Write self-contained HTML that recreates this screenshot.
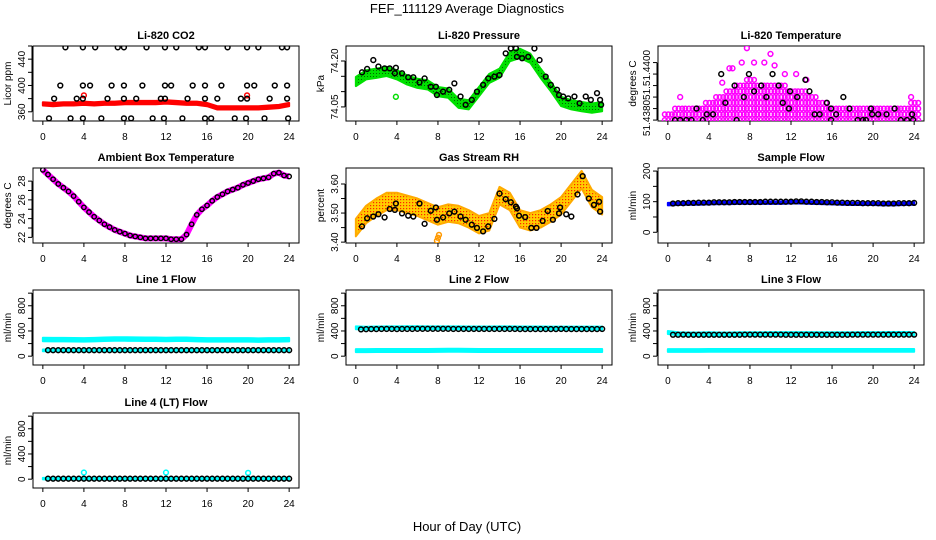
<!DOCTYPE html>
<html><head><meta charset="utf-8">
<style>
html,body{margin:0;padding:0;background:#fff;}
svg{display:block;font-family:"Liberation Sans",Helvetica,Arial,sans-serif;}
.tk{font-size:10px;fill:#000;}
.pt{font-size:11px;font-weight:bold;fill:#000;}
</style></head>
<body>
<svg id="chart" width="936" height="540" viewBox="0 0 936 540" xmlns="http://www.w3.org/2000/svg">
<defs>
<pattern id="greenDots" width="3" height="3" patternUnits="userSpaceOnUse"><rect width="3" height="3" fill="#00e000"/><rect x="1" y="1" width="1" height="1" fill="#006600"/></pattern>
<pattern id="orangeDots" width="3" height="3" patternUnits="userSpaceOnUse"><rect width="3" height="3" fill="#ffcc00"/><rect x="1" y="1" width="1.2" height="1.2" fill="#ff2200"/></pattern>
</defs>
<text x="467" y="13" text-anchor="middle" font-size="13">FEF_111129  Average Diagnostics</text>
<text x="467" y="531" text-anchor="middle" font-size="13">Hour of Day (UTC)</text>
</svg>
<script>
// ---------- data ----------
const HOURS = [0,1,2,3,4,5,6,7,8,9,10,11,12,13,14,15,16,17,18,19,20,21,22,23,24];
const HALF_T = [0.5,1,1.5,2,2.5,3,3.5,4,4.5,5,5.5,6,6.5,7,7.5,8,8.5,9,9.5,10,10.5,11,11.5,12,12.5,13,13.5,14,14.5,15,15.5,16,16.5,17,17.5,18,18.5,19,19.5,20,20.5,21,21.5,22,22.5,23,23.5,24];
const X_TICKS = [0,4,8,12,16,20,24];

// CO2
const co2Band = [372,371,372,372,373,372,373,373,374,374,374,374,375,374,373,373,371,366,366,366,366,366,367,368,371];
const co2BlackT = [2.2,3.9,5.1,7.3,7.9,10.1,11.9,13.0,15.2,15.8,18.0,19.9,21.0,23.3,23.8, 1.7,3.9,4.6,6.7,7.9,9.7,11.9,12.5,14.6,15.8,17.4,19.9,20.6,22.6,23.8, 1.1,3.3,3.9,6.3,7.9,9.1,11.5,11.9,14.1,15.8,17.0,19.3,19.9,22.1,23.8, 0.6,2.7,3.9,5.7,7.9,8.6,10.7,11.8,13.6,15.8,16.4,18.7,19.8,21.6,23.9];
const co2BlackV = [458,458,458,458,458,458,458,458,458,458,458,458,458,458,458, 400,400,400,400,400,400,400,400,400,400,400,400,400,400,400, 380,380,380,380,380,380,380,380,380,380,380,380,380,380,380, 350,350,350,350,350,350,350,350,350,350,350,350,350,350,350];

// Pressure
const presBand = [74.133,74.155,74.160,74.166,74.155,74.138,74.127,74.122,74.100,74.095,74.062,74.057,74.100,74.143,74.160,74.214,74.225,74.209,74.160,74.116,74.068,74.057,74.051,74.046,74.051];
const presBlackT = [0.6,1.1,1.7,2.2,2.8,3.3,3.8,3.9,4.5,5.1,5.6,6.2,6.7,7.3,7.8,7.9,8.5,9.1,9.6,10.2,10.7,11.3,11.8,12.4,12.9,13.5,14.0,14.6,15.1,15.6,15.7,16.2,16.8,17.4,17.9,18.5,19.0,19.6,19.8,20.2,20.7,21.3,21.8,22.4,22.9,23.5,23.8,23.9];
const presBlackV = [74.163,74.174,74.203,74.182,74.176,74.176,74.160,74.178,74.160,74.147,74.147,74.130,74.143,74.116,74.116,74.089,74.100,74.106,74.127,74.084,74.057,74.073,74.100,74.122,74.143,74.149,74.154,74.225,74.241,74.241,74.214,74.209,74.214,74.241,74.203,74.149,74.122,74.106,74.089,74.084,74.078,74.084,74.062,74.084,74.073,74.095,74.073,74.057];

// Li-820 temperature (levels of 0.00025 above 51.4380)
const tempMaxLevel = [1,2,2,2,3,4,5,6,7,6,6,6,5,5,4,3,2,2,2,2,2,2,2,2,3];
const tempOutT = [7.7,10.0,1.2,5.3,6.3,7.2,8.4,9.4,10.4,11.4,23.7,6.0,12.5,13.5];
const tempOutL = [12.5,11.5,4,6.5,9,10,10,10,9.5,8,4,9,8,7];
const tempBlackT = [0.7,1.2,1.8,2.3,2.8,3.4,3.8,4.4,5.2,5.6,6.5,6.7,7.4,7.9,8.4,9.1,9.6,10.2,10.8,11.2,11.8,11.9,12.6,13.4,13.8,14.3,14.8,15.5,15.9,15.9,16.4,17.1,17.7,18.5,19.0,19.3,19.8,19.9,20.5,21.3,22.1,22.7,23.3,23.8,23.9];
const tempBlackL = [0,0,0,0,2,0,1,1,8,3,6,0,4,8,5,6,4,8,6,3,2,5,4,7,5,1,1,3,2,0,1,4,2,0,0,0,2,1,1,1,2,0,0,1,0];

// Ambient box temperature
const ambV = [29.2,28.7,28.2,27.7,27.3,26.9,26.4,25.8,25.2,24.7,24.2,23.8,23.4,23.1,22.8,22.6,22.4,22.2,22.1,22.0,21.9,21.9,21.9,21.9,21.9,21.8,21.8,21.8,22.3,23.4,24.4,25.0,25.4,25.9,26.3,26.6,26.9,27.1,27.3,27.6,27.8,28.0,28.2,28.3,28.4,28.8,28.9,28.6,28.5];
const ambT = [0,0.5,1,1.5,2,2.5,3,3.5,4,4.5,5,5.5,6,6.5,7,7.5,8,8.5,9,9.5,10,10.5,11,11.5,12,12.5,13,13.5,14,14.5,15,15.5,16,16.5,17,17.5,18,18.5,19,19.5,20,20.5,21,21.5,22,22.5,23,23.5,24];

// Gas stream RH
const rhBand = [3.45,3.495,3.52,3.54,3.54,3.53,3.52,3.505,3.49,3.50,3.495,3.48,3.46,3.47,3.56,3.54,3.48,3.47,3.48,3.50,3.525,3.57,3.615,3.55,3.525];
const rhBlackT = [0.6,1.1,1.7,2.2,2.8,3.3,3.8,3.9,4.5,5.1,5.6,6.2,6.7,7.3,7.8,7.9,8.5,9.1,9.6,10.2,10.7,11.3,11.8,12.4,12.9,13.5,14.0,14.6,15.1,15.6,15.7,15.9,16.5,17.1,17.6,18.2,18.7,19.2,19.8,19.9,20.5,21.0,21.6,22.1,22.7,23.2,23.7,23.8];
const rhBlackV = [3.454,3.482,3.488,3.496,3.485,3.514,3.511,3.533,3.499,3.491,3.488,3.533,3.463,3.508,3.519,3.477,3.485,3.499,3.505,3.488,3.477,3.460,3.449,3.437,3.454,3.480,3.567,3.548,3.537,3.522,3.516,3.491,3.486,3.449,3.449,3.473,3.507,3.477,3.499,3.519,3.496,3.488,3.564,3.627,3.550,3.528,3.539,3.505];

// Flows
const sampleBand = [92,93,94,94,95,96,96,97,97,97,97,97,98,98,97,96,95,94,93,93,93,92,92,93,94];
const sampleBlack = [94,95,95,96,96,97,97,97,98,98,98,98,99,99,99,99,99,99,100,100,100,100,100,100,101,101,100,100,99,99,98,98,97,97,96,96,96,95,95,95,95,94,94,94,95,95,95,96];
const line1Upper = [265,262,262,260,258,262,268,272,272,270,268,268,265,268,268,262,258,258,258,258,258,255,258,258,262];
const line1Lower = [92,92,92,92,92,92,92,92,92,92,92,92,92,92,92,92,92,92,92,92,92,92,92,92,92];
const line1Black = [95,95,95,95,95,95,95,95,95,95,95,95,95,95,95,95,95,95,95,95,95,95,95,95,95,95,95,95,95,95,95,95,95,95,95,95,95,95,95,95,95,95,95,95,95,95,95,95];
const line2Upper = [450,445,448,450,450,452,452,450,450,450,450,448,448,448,450,450,448,448,448,446,446,446,446,446,446];
const line2Lower = [88,88,90,90,90,90,90,90,92,94,94,92,90,90,90,90,90,90,90,90,90,90,90,90,90];
const line2Black = [425,428,430,430,432,432,432,430,432,432,432,434,434,434,434,434,434,434,432,432,432,432,432,432,432,432,432,432,432,432,432,430,430,430,430,430,430,430,430,432,430,430,430,430,430,430,430,432];
const line3Upper = [375,355,352,352,355,352,352,355,355,355,358,358,358,358,358,355,355,355,355,358,358,358,360,360,358];
const line3Lower = [90,90,90,90,92,92,92,92,92,92,92,92,92,92,92,92,92,92,92,92,92,92,92,92,92];
const line3Black = [340,340,342,340,340,340,340,340,340,340,340,340,340,340,342,342,342,342,342,342,342,342,340,340,340,340,340,340,340,340,340,340,340,340,340,342,342,342,342,342,342,342,342,342,342,342,342,342];
const line4Band = [8,8,8,8,8,8,8,8,8,8,8,8,8,8,8,8,8,8,8,8,8,8,8,8,8];
const line4Black = [8,8,8,8,8,8,8,8,8,8,8,8,8,8,8,8,8,8,8,8,8,8,8,8,8,8,8,8,8,8,8,8,8,8,8,8,8,8,8,8,8,8,8,8,8,8,8,8];
const line4OutT = [4,12,20];
const line4OutV = [105,105,100];

// ---------- drawing ----------
const NS = "http://www.w3.org/2000/svg";
const svg = document.getElementById("chart");
function mk(tag, attrs, parent){
  const e = document.createElementNS(NS, tag);
  for (const k in attrs) e.setAttribute(k, attrs[k]);
  (parent || svg).appendChild(e);
  return e;
}
const COLS = [33, 346, 658];
const ROWS = [46, 168, 290, 413];
const W = 266, H = 75;

function panel(name, col, row, title, ylab, ymin, ymax, ticks, labels){
  const L = COLS[col], T = ROWS[row];
  const g = mk("g", {});
  
  
  const sx = t => L + (t + 0.96) / 25.92 * W;
  const sy = v => T + H - (v - ymin) / (ymax - ymin) * H;
  const clipId = name + "-clip";
  const cp = mk("clipPath", {id: clipId}, g);
  mk("rect", {x: L, y: T, width: W, height: H}, cp);
  const box = mk("rect", {x: L, y: T, width: W, height: H, fill: "none", stroke: "#000", "stroke-width": 1}, g);
  
  
  const ttl = mk("text", {x: L + W / 2, y: T - 7, "text-anchor": "middle", class: "pt"}, g);
  ttl.textContent = title;
  
  
  const xa = mk("g", {}, g);
  
  
  mk("line", {x1: sx(0), x2: sx(24), y1: T + H, y2: T + H, stroke: "#000"}, xa);
  X_TICKS.forEach(t => {
    mk("line", {x1: sx(t), x2: sx(t), y1: T + H, y2: T + H + 4, stroke: "#000"}, xa);
    const tx = mk("text", {x: sx(t), y: T + H + 19, "text-anchor": "middle", class: "tk"}, xa);
    tx.textContent = t;
  });
  const ya = mk("g", {}, g);
  
  
  mk("line", {x1: L - 1, x2: L - 1, y1: sy(ticks[0]), y2: sy(ticks[ticks.length - 1]), stroke: "#000"}, ya);
  ticks.forEach(v => mk("line", {x1: L - 5, x2: L - 1, y1: sy(v), y2: sy(v), stroke: "#000"}, ya));
  labels.forEach(lb => {
    const yy = lb[2] !== undefined ? lb[2] : sy(lb[0]);
    const tx = mk("text", {x: 0, y: 0, "text-anchor": "middle", class: "tk",
      transform: "translate(" + (L - 8) + "," + yy + ") rotate(-90)"}, ya);
    tx.textContent = lb[1];
  });
  const yt = mk("text", {x: 0, y: 0, "text-anchor": "middle", class: "tk",
    transform: "translate(" + (L - 22) + "," + (T + H / 2) + ") rotate(-90)"}, g);
  yt.textContent = ylab;
  
  
  const plot = mk("g", {"clip-path": "url(#" + clipId + ")"}, g);
  return {sx, sy, plot, g};
}
function band(p, ts, vals, hw, color, nm, stroke){
  let top = "", bot = "";
  ts.forEach((t, i) => { top += p.sx(t) + "," + p.sy(vals[i] + hw) + " "; });
  for (let i = ts.length - 1; i >= 0; i--) bot += p.sx(ts[i]) + "," + p.sy(vals[i] - hw) + " ";
  const e = mk("polygon", {points: top + bot, fill: color, stroke: stroke || color, "stroke-width": 2, "stroke-linejoin": "round"}, p.plot);
  
  
}
function dots(p, ts, vals, color, nm, r, sw){
  const gg = mk("g", {}, p.plot);
  
  
  ts.forEach((t, i) => mk("circle", {cx: p.sx(t), cy: p.sy(vals[i]), r: r || 2.4, fill: "none", stroke: color, "stroke-width": sw || 1.5}, gg));
}

// CO2
let p = panel("co2", 0, 0, "Li-820 CO2", "Licor ppm", 346, 460, [360,380,400,420,440,460], [[360,"360"],[400,"400"],[440,"440"]]);
band(p, HOURS, co2Band, 2.5, "#ff0000", "co2-band");
dots(p, [4.0,19.9], [385,385], "#ff0000", "co2-red-outliers");
dots(p, co2BlackT, co2BlackV, "#000", "co2-mean-points");

// Pressure
p = panel("pressure", 1, 0, "Li-820 Pressure", "kPa", 74.004, 74.249, [74.05,74.10,74.15,74.20], [[74.05,"74.05"],[74.20,"74.20"]]);
band(p, HOURS, presBand, 0.015, "url(#greenDots)", "pressure-band", "#00e000");
dots(p, [3.9], [74.083], "#00dd00", "pressure-green-outlier");
dots(p, presBlackT, presBlackV, "#000", "pressure-mean-points");

// Li-820 temperature
p = panel("li820-temp", 2, 0, "Li-820 Temperature", "degrees C", 51.43796, 51.44122, [51.4380,51.4385,51.4390,51.4395,51.4400,51.4405], [[51.4380,"51.4380",118],[51.4395,"51.",93],[51.4400,"51.4400",68]]);
{
  const lv = l => 51.4380 + l * 0.00025;
  const mt = [], mv = [];
  HOURS.forEach((h, i) => {
    for (let l = 0; l <= tempMaxLevel[i]; l++) {
      [-0.3, 0.05, 0.4].forEach(d => { mt.push(h + d); mv.push(lv(l)); });
    }
  });
  dots(p, mt, mv, "#ff00ff", "li820-temp-cloud", 2.3, 1.5);
  dots(p, tempOutT, tempOutL.map(lv), "#ff00ff", "li820-temp-outliers");
  dots(p, tempBlackT, tempBlackL.map(lv), "#000", "li820-temp-mean-points");
}

// Ambient
p = panel("ambient", 0, 1, "Ambient Box Temperature", "degrees C", 21.4, 29.4, [22,23,24,25,26,27,28], [[22,"22"],[24,"24"],[26,"26"],[28,"28"]]);
{
  const pl = mk("polyline", {points: ambT.map((t, i) => p.sx(t) + "," + p.sy(ambV[i])).join(" "), fill: "none", stroke: "#ff00ff", "stroke-width": 6, "stroke-linejoin": "round"}, p.plot);
  
  
  dots(p, ambT, ambV, "#000", "ambient-mean-points", 2.2, 1.4);
}

// RH
p = panel("rh", 1, 1, "Gas Stream RH", "percent", 3.397, 3.655, [3.40,3.45,3.50,3.55,3.60], [[3.40,"3.40"],[3.50,"3.50"],[3.60,"3.60"]]);
band(p, HOURS, rhBand, 0.03, "url(#orangeDots)", "rh-band", "#ffaa00");
dots(p, [7.9,8.0,8.1], [3.405,3.415,3.425], "#ff9900", "rh-outliers");
dots(p, rhBlackT, rhBlackV, "#000", "rh-mean-points");

// Sample flow
p = panel("sample-flow", 2, 1, "Sample Flow", "ml/min", -35, 210, [0,50,100,150,200], [[0,"0"],[100,"100"],[200,"200"]]);
band(p, HOURS, sampleBand, 4, "#0000ff", "sample-flow-band");
dots(p, HALF_T, sampleBlack, "#000", "sample-flow-mean-points");

const FT = [0,200,400,600,800,1000], FL = [[0,"0"],[400,"400"],[800,"800"]];
p = panel("line1", 0, 2, "Line 1 Flow", "ml/min", -140, 1050, FT, FL);
band(p, HOURS, line1Upper, 28, "#00ffff", "line1-upper-band");
band(p, HOURS, line1Lower, 14, "#00ffff", "line1-lower-band");
dots(p, HALF_T, line1Black, "#000", "line1-mean-points");
p = panel("line2", 1, 2, "Line 2 Flow", "ml/min", -140, 1050, FT, FL);
band(p, HOURS, line2Upper, 22, "#00ffff", "line2-upper-band");
band(p, HOURS, line2Lower, 24, "#00ffff", "line2-lower-band");
dots(p, HALF_T, line2Black, "#000", "line2-mean-points");
p = panel("line3", 2, 2, "Line 3 Flow", "ml/min", -140, 1050, FT, FL);
band(p, HOURS, line3Upper, 24, "#00ffff", "line3-upper-band");
band(p, HOURS, line3Lower, 22, "#00ffff", "line3-lower-band");
dots(p, HALF_T, line3Black, "#000", "line3-mean-points");
p = panel("line4", 0, 3, "Line 4 (LT) Flow", "ml/min", -140, 1050, FT, FL);
band(p, HOURS, line4Band, 12, "#00ffff", "line4-band");
dots(p, line4OutT, line4OutV, "#00ffff", "line4-outliers");
dots(p, HALF_T, line4Black, "#000", "line4-mean-points");
</script>
</body></html>
